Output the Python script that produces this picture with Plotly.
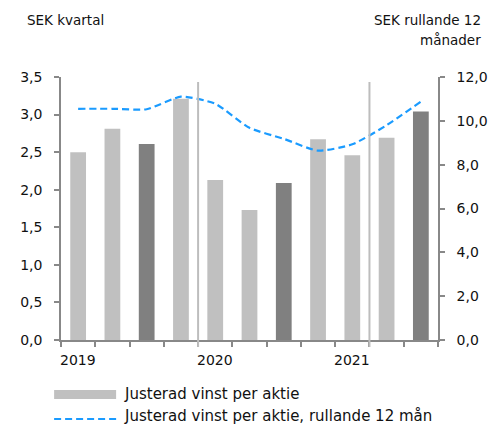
import plotly.graph_objects as go

# quarters 2019 Q1 .. 2021 Q3
quarters = ["2019 K1", "2019 K2", "2019 K3", "2019 K4",
            "2020 K1", "2020 K2", "2020 K3", "2020 K4",
            "2021 K1", "2021 K2", "2021 K3"]
eps_quarter = [2.50, 2.81, 2.61, 3.21, 2.13, 1.73, 2.09, 2.67, 2.46, 2.69, 3.04]
eps_rolling = [10.55, 10.55, 10.53, 11.10, 10.78, 9.68, 9.18, 8.64, 8.93, 9.80, 10.88]
highlight = [False, False, True, False, False, False, True, False, False, False, True]
year_labels = {0: "2019", 4: "2020", 8: "2021"}
separators_at = [3.5, 8.5]

light = "#c0c0c0"
dark = "#808080"
blue = "#1a9bff"
axis_col = "#888888"
txt = "#111111"
font = "DejaVu Sans"

# page sits 8px in from the window edge (body margin)
L, R, T, B = 57, 440, 77, 340


def px(xpix):
    return (xpix - L) / (R - L)


def py(ypix):
    return (B - ypix) / (B - T)


x = list(range(len(quarters)))
bar_colors = [dark if h else light for h in highlight]

fig = go.Figure()
fig.add_trace(go.Bar(x=x, y=eps_quarter, marker=dict(color=bar_colors, line=dict(width=0)),
                     width=0.46, name="Justerad vinst per aktie", showlegend=False))
fig.add_trace(go.Scatter(x=x, y=eps_rolling, yaxis="y2", mode="lines",
                         line=dict(color=blue, width=2.2, dash="7px,4px", shape="spline", smoothing=0.6),
                         name="Justerad vinst per aktie, rullande 12 mån", showlegend=False))

for s in separators_at:
    fig.add_shape(type="line", xref="x", yref="paper", x0=s, x1=s, y0=py(347), y1=py(82),
                  line=dict(color="#bdbdbd", width=2), layer="above")

for i, lab in year_labels.items():
    fig.add_annotation(x=i, y=py(360), xref="x", yref="paper", text=lab, showarrow=False,
                       xanchor="center", yanchor="middle", font=dict(size=14, color=txt, family=font))

fig.add_annotation(xref="paper", yref="paper", x=px(20), y=py(20), xanchor="left", yanchor="middle",
                   text="SEK kvartal", showarrow=False, font=dict(size=13.5, color=txt, family=font))
fig.add_annotation(xref="paper", yref="paper", x=px(486), y=py(20), xanchor="right", yanchor="middle",
                   text="SEK rullande 12", showarrow=False, font=dict(size=13.5, color=txt, family=font))
fig.add_annotation(xref="paper", yref="paper", x=px(486), y=py(40), xanchor="right", yanchor="middle",
                   text="månader", showarrow=False, font=dict(size=13.5, color=txt, family=font))

# custom legend
fig.add_shape(type="rect", xref="paper", yref="paper", x0=px(50), x1=px(113), y0=py(399), y1=py(390),
              fillcolor=light, line=dict(width=0))
fig.add_annotation(xref="paper", yref="paper", x=px(119), y=py(394), xanchor="left", yanchor="middle",
                   text="Justerad vinst per aktie", showarrow=False,
                   font=dict(size=15, color=txt, family=font))
fig.add_shape(type="line", xref="paper", yref="paper", x0=px(50), x1=px(113), y0=py(419), y1=py(419),
              line=dict(color=blue, width=2.2, dash="7px,4px"))
fig.add_annotation(xref="paper", yref="paper", x=px(119), y=py(416), xanchor="left", yanchor="middle",
                   text="Justerad vinst per aktie, rullande 12 mån", showarrow=False,
                   font=dict(size=15, color=txt, family=font))

fig.update_layout(
    width=492, height=418,
    margin=dict(l=L - 8, r=500 - R, t=T - 8, b=426 - B),
    paper_bgcolor="white", plot_bgcolor="white",
    separators=", ",
    font=dict(family=font, size=14, color=txt),
    xaxis=dict(range=[-0.5, len(quarters) - 0.5], tickvals=[i - 0.5 for i in range(len(quarters) + 1)],
               ticktext=[""] * (len(quarters) + 1), ticks="outside", ticklen=5, tickcolor=axis_col,
               tickwidth=1.5, showline=True, linecolor=axis_col, linewidth=1.5, showgrid=False,
               zeroline=False),
    yaxis=dict(range=[0, 3.5], dtick=0.5, tickformat=".1f", ticks="outside", ticklen=5,
               tickcolor=axis_col, tickwidth=1.5, showline=True, linecolor=axis_col, linewidth=1.5,
               showgrid=False, zeroline=False, ticklabelstandoff=9),
    yaxis2=dict(range=[0, 12], dtick=2, tickformat=".1f", overlaying="y", side="right",
                ticks="outside", ticklen=5, tickcolor=axis_col, tickwidth=1.5, showline=True,
                linecolor=axis_col, linewidth=1.5, showgrid=False, zeroline=False, ticklabelstandoff=9),
)

fig.write_html("out.html")
